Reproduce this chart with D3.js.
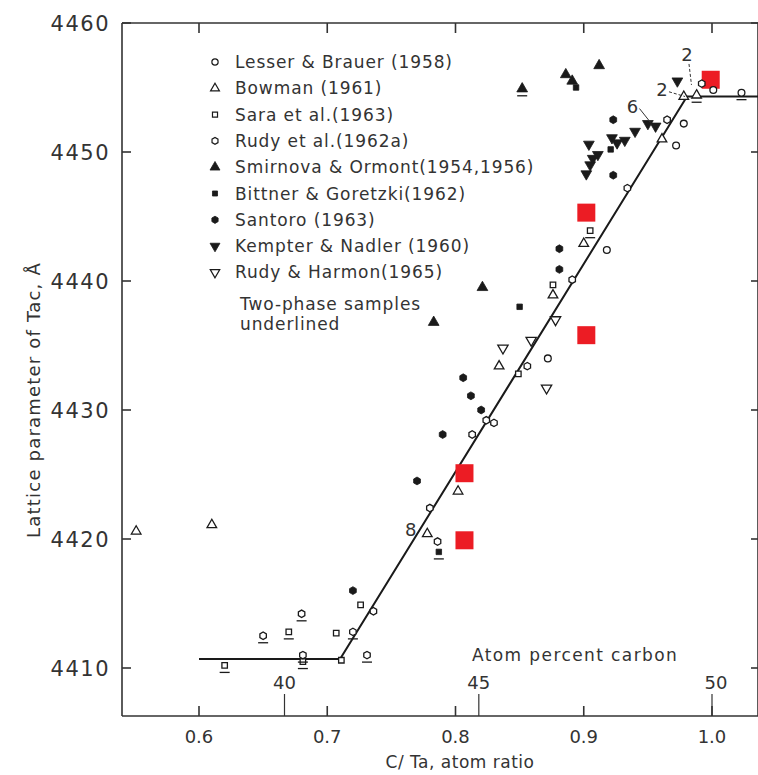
<!doctype html>
<html lang="en">
<head>
  <meta charset="utf-8">
  <title>Lattice parameter of TaC</title>
</head>
<body style="overflow: hidden; margin: 0; background: #fff;">
  <script src="https://cdnjs.cloudflare.com/ajax/libs/d3/7.8.5/d3.min.js"></script>
  <script type="text/javascript">

    // values: [C/Ta ratio, lattice parameter (x1000 A), two-phase flag]
    var lesserBrauer = [[0.872, 4434.0], [0.918, 4442.4], [0.972, 4450.5], [0.978, 4452.2], [1.001, 4454.8], [1.023, 4454.6, 1]];
    var bowman = [[0.551, 4420.6], [0.610, 4421.1], [0.778, 4420.4], [0.802, 4423.7], [0.834, 4433.4], [0.876, 4438.9],
                  [0.900, 4442.9], [0.961, 4451.0], [0.978, 4454.3], [0.988, 4454.4, 1]];
    var sara = [[0.620, 4410.2, 1], [0.670, 4412.8, 1], [0.681, 4410.5, 1], [0.707, 4412.7], [0.711, 4410.6],
                [0.726, 4414.9], [0.849, 4432.8], [0.876, 4439.7], [0.905, 4443.9, 1]];
    var rudy1962 = [[0.650, 4412.5, 1], [0.680, 4414.2, 1], [0.681, 4411.0, 1], [0.720, 4412.8, 1], [0.731, 4411.0, 1],
                    [0.736, 4414.4], [0.780, 4422.4], [0.786, 4419.8], [0.813, 4428.1], [0.824, 4429.2], [0.830, 4429.0],
                    [0.856, 4433.4], [0.891, 4440.1], [0.934, 4447.2], [0.965, 4452.5], [0.992, 4455.3]];
    var smirnova = [[0.783, 4436.8], [0.821, 4439.5], [0.852, 4454.9, 1], [0.886, 4456.0], [0.891, 4455.5], [0.912, 4456.7]];
    var bittner = [[0.787, 4419.0, 1], [0.850, 4438.0], [0.894, 4455.0], [0.921, 4450.2]];
    var santoro = [[0.720, 4416.0], [0.770, 4424.5], [0.790, 4428.1], [0.806, 4432.5], [0.812, 4431.1], [0.820, 4430.0],
                   [0.881, 4442.5], [0.881, 4440.9], [0.923, 4452.5], [0.923, 4448.2]];
    var kempter = [[0.902, 4448.3], [0.905, 4449.0], [0.907, 4449.5], [0.904, 4450.6], [0.911, 4449.8], [0.922, 4451.1],
                   [0.926, 4450.7], [0.932, 4450.9], [0.940, 4451.6], [0.950, 4452.2], [0.956, 4452.0], [0.973, 4455.5]];
    var rudyHarmon = [[0.837, 4434.8], [0.859, 4435.4], [0.871, 4431.7], [0.878, 4437.0]];
    var redPoints = [[0.807, 4419.9], [0.807, 4425.1], [0.902, 4435.8], [0.902, 4445.3], [0.999, 4455.6]];

    // fitted curve
    var lineC = [0.60, 0.71, 0.9805, 1.04];
    var lineA = [4410.7, 4410.7, 4454.3, 4454.3];

    // count labels [text, c, a] and the point each one refers to [c, a]
    var countLabels = [["8", 0.765, 4420.8], ["6", 0.938, 4453.6], ["2", 0.961, 4454.9], ["2", 0.9805, 4457.6]];
    var countTargets = [null, [0.952, 4452.3], [0.979, 4454.3], [0.984, 4455.2]];

    var xTicks = [0.6, 0.7, 0.8, 0.9, 1.0];
    var xTickLabels = ["0.6", "0.7", "0.8", "0.9", "1.0"];
    var yTicks = [4410, 4420, 4430, 4440, 4450, 4460];
    var atomPct = [40, 45, 50];

    var legendNames = ["Lesser & Brauer (1958)", "Bowman (1961)", "Sara et al.(1963)", "Rudy et al.(1962a)",
                       "Smirnova & Ormont(1954,1956)", "Bittner & Goretzki(1962)", "Santoro (1963)",
                       "Kempter & Nadler (1960)", "Rudy & Harmon(1965)"];

    var config = {
      width: 758, height: 775,
      left: 122, right: 758, top: 23, bottom: 716,
      ink: "#1a1a1a", text: "#333", font: "'DejaVu Sans', sans-serif"
    };

    var svg = d3.select("body").append("svg")
      .attr("width", config.width)
      .attr("height", config.height)
      .style("font-family", config.font);

    var x = d3.scaleLinear().domain([0.6, 1.0]).range([199, 712]);
    var y = d3.scaleLinear().domain([4410, 4460]).range([668, 23]);

    var symbolHex = {
      draw: function (ctx, size) {
        var r = Math.sqrt(size / 2.598);
        for (var i = 0; i < 6; i++) {
          var ang = Math.PI / 3 * i + Math.PI / 6;
          if (i === 0) ctx.moveTo(r * Math.cos(ang), r * Math.sin(ang));
          else ctx.lineTo(r * Math.cos(ang), r * Math.sin(ang));
        }
        ctx.closePath();
      }
    };

    var series = [
      { data: lesserBrauer, type: d3.symbolCircle, size: 36, fill: false, rot: 0 },
      { data: bowman, type: d3.symbolTriangle, size: 40, fill: false, rot: 0 },
      { data: sara, type: d3.symbolSquare, size: 30, fill: false, rot: 0 },
      { data: rudy1962, type: symbolHex, size: 36, fill: false, rot: 0 },
      { data: smirnova, type: d3.symbolTriangle, size: 50, fill: true, rot: 0 },
      { data: bittner, type: d3.symbolSquare, size: 30, fill: true, rot: 0 },
      { data: santoro, type: symbolHex, size: 40, fill: true, rot: 0 },
      { data: kempter, type: d3.symbolTriangle, size: 50, fill: true, rot: 180 },
      { data: rudyHarmon, type: d3.symbolTriangle, size: 46, fill: false, rot: 180 }
    ];

    // frame
    var frame = svg.append("g").attr("stroke", "#333").attr("stroke-width", 1.6).attr("fill", "none");
    frame.append("line").attr("x1", config.left).attr("x2", config.left).attr("y1", config.top).attr("y2", config.bottom);
    frame.append("line").attr("x1", config.left).attr("x2", config.right).attr("y1", config.top).attr("y2", config.top);
    frame.append("line").attr("x1", config.left).attr("x2", config.right).attr("y1", config.bottom).attr("y2", config.bottom);
    frame.append("line").attr("x1", config.right).attr("x2", config.right).attr("y1", config.top).attr("y2", config.bottom);

    // ticks (pointing inward)
    xTicks.forEach(function (t) {
      frame.append("line").attr("x1", x(t)).attr("x2", x(t)).attr("y1", config.bottom).attr("y2", config.bottom - 10);
      frame.append("line").attr("x1", x(t)).attr("x2", x(t)).attr("y1", config.top).attr("y2", config.top + 10);
    });
    yTicks.forEach(function (t) {
      frame.append("line").attr("x1", config.left).attr("x2", config.left + 9).attr("y1", y(t)).attr("y2", y(t));
      frame.append("line").attr("x1", config.right).attr("x2", config.right - 7).attr("y1", y(t)).attr("y2", y(t));
    });
    // atom percent carbon ticks
    atomPct.forEach(function (p) {
      var c = p / (100 - p);
      frame.append("line").attr("x1", x(c)).attr("x2", x(c)).attr("y1", config.bottom).attr("y2", config.bottom - 22)
        .attr("stroke-width", 1.2);
    });

    // tick labels
    svg.append("g").selectAll("text").data(yTicks).join("text")
      .attr("x", 110).attr("y", function (d) { return y(d) + 8; })
      .attr("text-anchor", "end").attr("font-size", 21).attr("letter-spacing", 1.5)
      .attr("fill", config.text).text(function (d) { return d; });

    svg.append("g").selectAll("text").data(xTicks).join("text")
      .attr("x", function (d) { return x(d); }).attr("y", 743)
      .attr("text-anchor", "middle").attr("font-size", 18).attr("fill", config.text)
      .text(function (d, i) { return xTickLabels[i]; });

    svg.append("g").selectAll("text").data(atomPct).join("text")
      .attr("x", function (d) { return x(d / (100 - d)) + (d === 50 ? 4 : 0); }).attr("y", 689)
      .attr("text-anchor", "middle").attr("font-size", 18).attr("fill", config.text)
      .text(function (d) { return d; });

    svg.append("text").attr("x", 472).attr("y", 661).attr("font-size", 17).attr("fill", config.text)
      .attr("letter-spacing", 1.4).text("Atom percent carbon");

    svg.append("text").attr("x", 460).attr("y", 768).attr("text-anchor", "middle")
      .attr("font-size", 17).attr("letter-spacing", 0.5).attr("fill", config.text).text("C/ Ta, atom ratio");

    svg.append("text").attr("transform", "translate(40,400) rotate(-90)").attr("text-anchor", "middle")
      .attr("font-size", 18).attr("fill", config.text).attr("letter-spacing", 1.2).text("Lattice parameter of Tac, \u00c5");

    // fitted line
    var lineData = lineC.map(function (c, i) { return [c, lineA[i]]; });
    svg.append("path").datum(lineData)
      .attr("d", d3.line().x(function (d) { return x(d[0]); }).y(function (d) { return y(d[1]); }))
      .attr("fill", "none").attr("stroke", config.ink).attr("stroke-width", 2);

    // red squares
    svg.append("g").selectAll("path").data(redPoints).join("path")
      .attr("transform", function (d) { return "translate(" + x(d[0]) + "," + y(d[1]) + ")"; })
      .attr("d", d3.symbol().type(d3.symbolSquare).size(324))
      .attr("fill", "#ec1c24");

    // data series
    series.forEach(function (s) {
      var g = svg.append("g");
      g.selectAll("path").data(s.data).join("path")
        .attr("transform", function (d) { return "translate(" + x(d[0]) + "," + y(d[1]) + ") rotate(" + s.rot + ")"; })
        .attr("d", d3.symbol().type(s.type).size(s.size))
        .attr("fill", s.fill ? config.ink : "#fff")
        .attr("stroke", config.ink).attr("stroke-width", s.fill ? 0.8 : 1.3);
      g.selectAll("line").data(s.data.filter(function (d) { return d[2]; })).join("line")
        .attr("x1", function (d) { return x(d[0]) - 5; }).attr("x2", function (d) { return x(d[0]) + 5; })
        .attr("y1", function (d) { return y(d[1]) + 7; }).attr("y2", function (d) { return y(d[1]) + 7; })
        .attr("stroke", config.ink).attr("stroke-width", 1.3);
    });

    // count labels with leaders
    svg.append("g").selectAll("text").data(countLabels).join("text")
      .attr("x", function (d) { return x(d[1]); }).attr("y", function (d) { return y(d[2]) + 7; })
      .attr("text-anchor", "middle").attr("font-size", 18).attr("fill", config.text)
      .text(function (d) { return d[0]; });
    countLabels.forEach(function (l, i) {
      var t = countTargets[i];
      if (!t) return;
      var fromX = i === 3 ? x(l[1]) + 2 : x(l[1]) + 7;
      var fromY = i === 3 ? y(l[2]) + 10 : y(l[2]) + 3;
      svg.append("line")
        .attr("x1", fromX).attr("y1", fromY)
        .attr("x2", x(t[0])).attr("y2", y(t[1]))
        .attr("stroke", "#333").attr("stroke-width", 1).attr("stroke-dasharray", i === 1 ? null : "3,2");
    });

    // legend
    var legend = svg.append("g").attr("transform", "translate(215,62)");
    series.forEach(function (s, i) {
      var row = legend.append("g").attr("transform", "translate(0," + (i * 26.3) + ")");
      row.append("path")
        .attr("transform", "rotate(" + s.rot + ")")
        .attr("d", d3.symbol().type(s.type).size(s.size * 0.85))
        .attr("fill", s.fill ? config.ink : "#fff")
        .attr("stroke", config.ink).attr("stroke-width", s.fill ? 0.8 : 1.2);
      row.append("text").attr("x", 20).attr("y", 6).attr("font-size", 17).attr("letter-spacing", 0.9)
        .attr("fill", config.text).text(legendNames[i]);
    });
    legend.append("text").attr("x", 25).attr("y", 9 * 26.3 + 11).attr("font-size", 17).attr("letter-spacing", 0.9)
      .attr("fill", config.text).text("Two-phase samples");
    legend.append("text").attr("x", 25).attr("y", 9 * 26.3 + 31).attr("font-size", 17).attr("letter-spacing", 0.9)
      .attr("fill", config.text).text("underlined");

  </script>
</body>
</html>
